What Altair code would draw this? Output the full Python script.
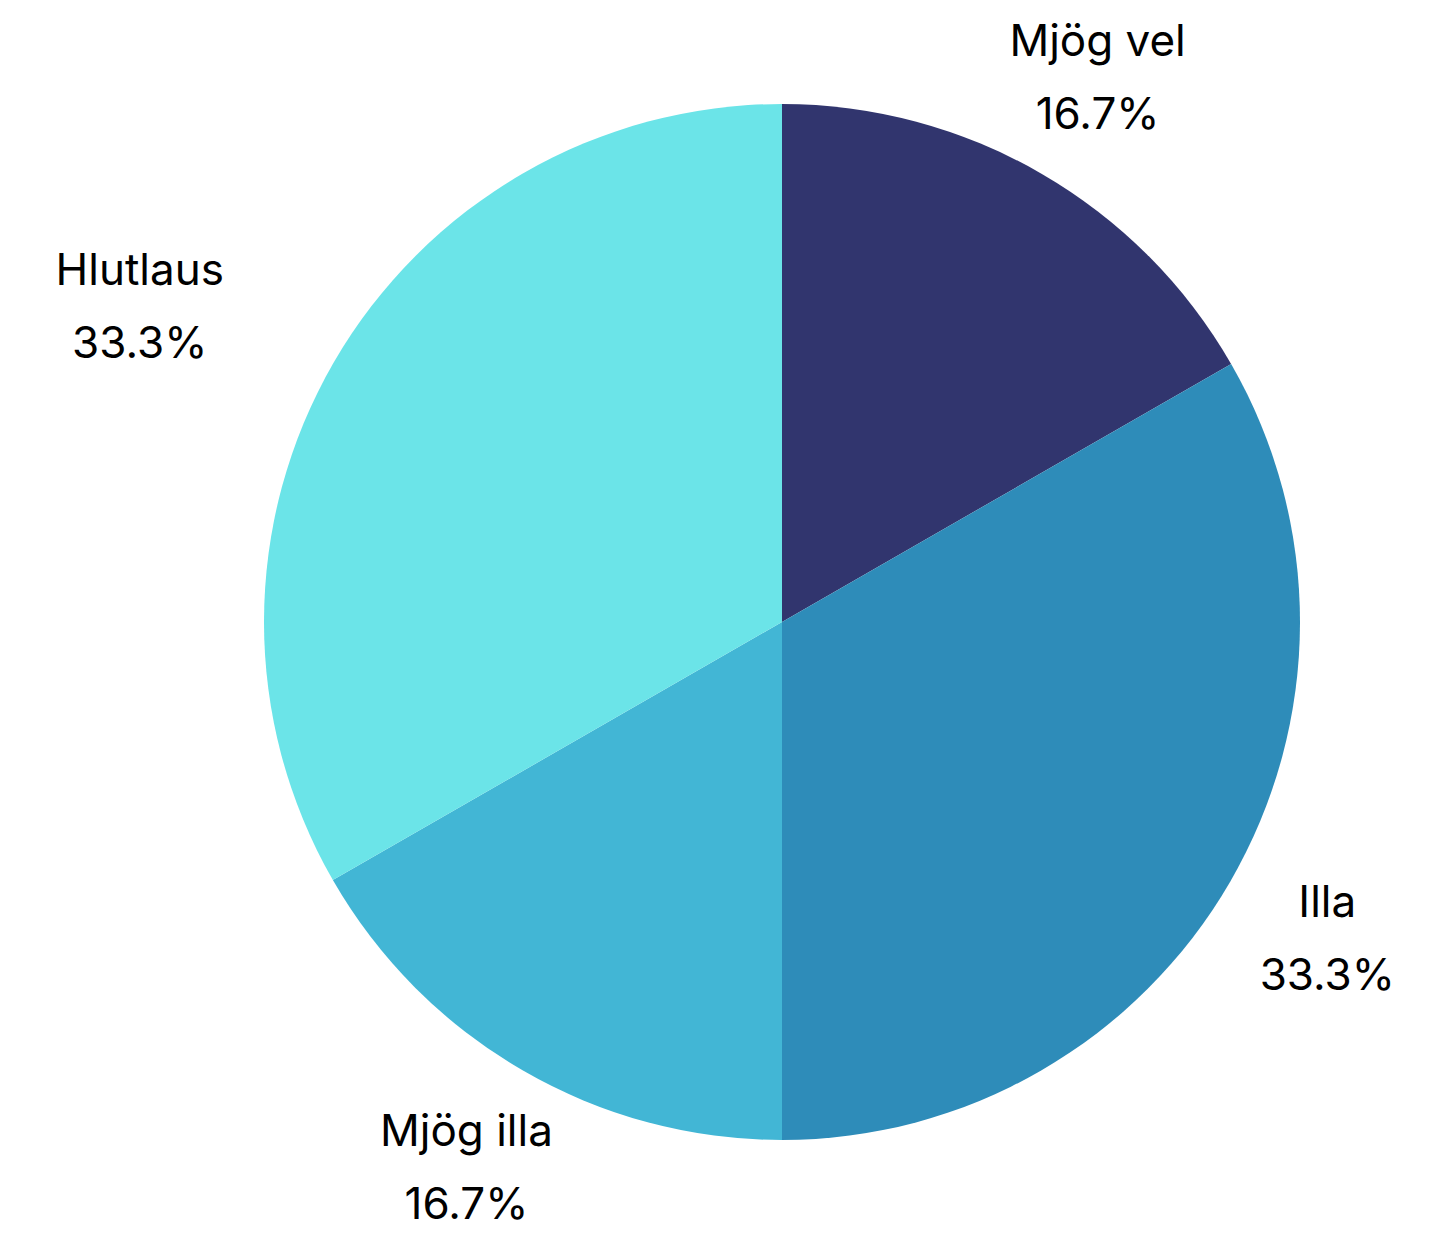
import altair as alt
import pandas as pd

categories = ["Mjög vel", "Illa", "Mjög illa", "Hlutlaus"]
values = [16.7, 33.3, 16.7, 33.3]
pct_labels = ["16.7%", "33.3%", "16.7%", "33.3%"]
colors = ["#31356E", "#2E8CB9", "#42B6D5", "#6BE4E8"]

df = pd.DataFrame({
    "cat": categories,
    "val": values,
    "pct": pct_labels,
    "ord": list(range(len(categories))),
})
df["label"] = df["cat"] + "\n" + df["pct"]

cx, cy = 774, 614

base = alt.Chart(df).encode(
    theta=alt.Theta("val:Q", stack=True),
    order=alt.Order("ord:Q"),
    x=alt.value(cx),
    y=alt.value(cy),
)

pie = base.mark_arc(outerRadius=518).encode(
    color=alt.Color("cat:N", scale=alt.Scale(domain=categories, range=colors), legend=None)
)

txt_props = dict(radius=630, font="Inter", fontSize=44, lineBreak="\n",
                 lineHeight=73, align="center", baseline="middle", color="#000000")

text_main = base.mark_text(dy=-34, **txt_props).encode(text="lab1:N").transform_calculate(
    lab1="datum.cat != 'Hlutlaus' ? datum.label : ''"
)
text_h = base.mark_text(dx=-97, dy=-34, **txt_props).encode(text="lab2:N").transform_calculate(
    lab2="datum.cat == 'Hlutlaus' ? datum.label : ''"
)

chart = alt.layer(pie, text_main, text_h).properties(
    width=1414, height=1220, padding=0, autosize="none"
).configure_view(stroke=None)

chart.save("out.html", embed_options={"renderer": "svg", "actions": False})
